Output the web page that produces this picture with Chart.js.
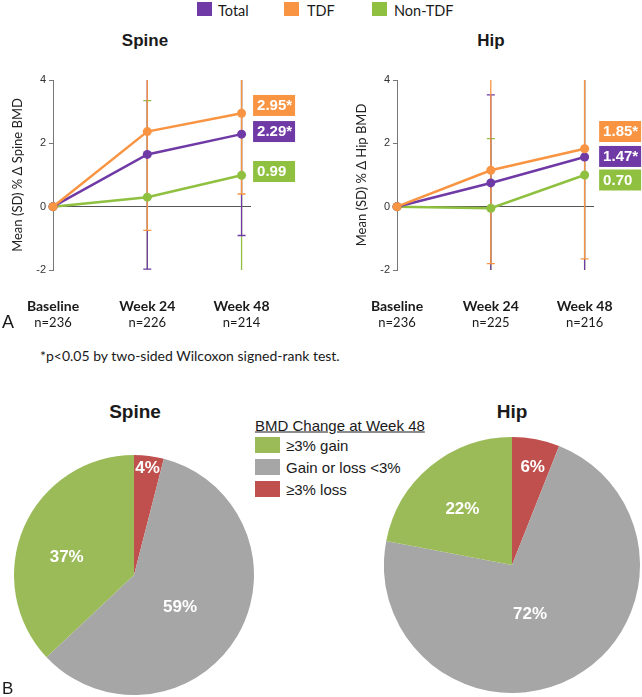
<!DOCTYPE html>
<html>
<head>
<meta charset="utf-8">
<script src="https://cdn.jsdelivr.net/npm/chart.js@4.4.1/dist/chart.umd.min.js"></script>
<style>
  html, body { margin:0; padding:0; background:#fff; }
  body { width:642px; height:697px; position:relative; overflow:hidden; font-family: Lato, "Open Sans", sans-serif; color:#1a1a1a; }
  .abs { position:absolute; white-space:nowrap; }
  .vc { transform: translateY(-50%); }
  canvas { position:absolute; }
  .sq { position:absolute; }
</style>
</head>
<body>
<!-- top legend -->
<div class="sq" style="left:197px;top:2px;width:15px;height:14px;background:#6f3aa6"></div>
<div class="abs vc" style="left:218px;top:10px;font-size:14.5px;">Total</div>
<div class="sq" style="left:284px;top:2px;width:15px;height:14px;background:#f89442"></div>
<div class="abs vc" style="left:307px;top:10px;font-size:14.5px;">TDF</div>
<div class="sq" style="left:372px;top:2px;width:15px;height:14px;background:#8fc040"></div>
<div class="abs vc" style="left:394px;top:10px;font-size:14.5px;">Non-TDF</div>

<div class="abs vc" style="left:145px;top:41px;transform:translate(-50%,-50%);font:bold 17px 'Liberation Sans',Arial,sans-serif;">Spine</div>
<div class="abs vc" style="left:491px;top:41px;transform:translate(-50%,-50%);font:bold 17px 'Liberation Sans',Arial,sans-serif;">Hip</div>

<canvas id="spineLine" width="321" height="340" style="left:0;top:0;width:321px;height:340px"></canvas>
<canvas id="hipLine" width="321" height="340" style="left:321px;top:0;width:321px;height:340px"></canvas>

<div class="abs vc" style="left:2px;top:322px;font:18px 'Liberation Sans',Arial,sans-serif;">A</div>
<div class="abs vc" style="left:40px;top:355px;font-size:14px;">*p&lt;0.05 by two-sided Wilcoxon signed-rank test.</div>

<div class="abs" style="left:135px;top:412px;transform:translate(-50%,-50%);font:bold 19px 'Liberation Sans',Arial,sans-serif;">Spine</div>
<div class="abs" style="left:512px;top:412px;transform:translate(-50%,-50%);font:bold 19px 'Liberation Sans',Arial,sans-serif;">Hip</div>

<div id="pieLegend"></div>

<canvas id="spinePie" width="240" height="240" style="left:14px;top:455px;width:240px;height:240px"></canvas>
<canvas id="hipPie" width="256" height="256" style="left:384px;top:437px;width:256px;height:256px"></canvas>

<div class="abs vc" style="left:2px;top:689px;font:17px 'Liberation Sans',Arial,sans-serif;">B</div>

<script>
// ---------------- data ----------------
const categories = ['Baseline', 'Week 24', 'Week 48'];
const spineN = ['n=236', 'n=226', 'n=214'];
const hipN = ['n=236', 'n=225', 'n=216'];
const seriesNames = ['Total', 'TDF', 'Non-TDF'];

const spineTotal = [0, 1.65, 2.29];
const spineTDF = [0, 2.37, 2.95];
const spineNonTDF = [0, 0.30, 0.99];
const spineTotalSD = [0, 3.62, 3.20];
const spineTDFSD = [0, 3.12, 2.55];
const spineNonTDFSD = [0, 3.05, 3.10];
const spineValueLabels = ['2.29*', '2.95*', '0.99'];

const hipTotal = [0, 0.75, 1.57];
const hipTDF = [0, 1.15, 1.83];
const hipNonTDF = [0, -0.05, 1.00];
const hipTotalSD = [0, 2.78, 3.70];
const hipTDFSD = [0, 2.95, 3.48];
const hipNonTDFSD = [0, 2.20, 3.10];
const hipValueLabels = ['1.47*', '1.85*', '0.70'];

const yMin = -2, yMax = 4, yStep = 2;

const pieCategories = ['\u22653% gain', 'Gain or loss <3%', '\u22653% loss'];
const spinePie = [37, 59, 4];
const hipPie = [22, 72, 6];
const pieTitle = 'BMD Change at Week 48';

// ---------------- styles ----------------
const COL = { Total: '#6f3aa6', TDF: '#f89442', 'Non-TDF': '#8fc040' };
const PIECOL = ['#9bbb59', '#a6a6a6', '#c0504d'];
const UIFONT = 'Lato, "Open Sans", sans-serif';

// pie legend (HTML)
(function () {
  const el = document.getElementById('pieLegend');
  let h = '<div class="abs vc" style="left:255px;top:425px;font:15px \'Liberation Sans\',Arial,sans-serif;text-decoration:underline;">' + pieTitle + '</div>';
  const sqTop = [437, 459, 481];
  pieCategories.forEach((c, i) => {
    h += '<div class="sq" style="left:255px;top:' + sqTop[i] + 'px;width:25px;height:16px;background:' + PIECOL[i] + '"></div>';
    h += '<div class="abs vc" style="left:286px;top:' + (sqTop[i] + 8) + 'px;font:15px \'Liberation Sans\',Arial,sans-serif;">' + c + '</div>';
  });
  el.innerHTML = h;
})();

// ---------------- plugins ----------------
const errorBarPlugin = {
  id: 'errorBars',
  beforeDatasetsDraw(chart, args, opts) {
    const { ctx, chartArea, scales } = chart;
    ctx.save();
    ctx.beginPath();
    ctx.rect(chartArea.left - 10, chartArea.top, chartArea.right - chartArea.left + 20, chartArea.bottom - chartArea.top);
    ctx.clip();
    opts.drawOrder.forEach(di => {
      const ds = chart.data.datasets[di];
      ctx.strokeStyle = ds.borderColor;
      ctx.lineWidth = 1.3;
      ds.data.forEach((p, i) => {
        const sd = ds.sd[i];
        if (!sd) return;
        const x = scales.x.getPixelForValue(p.x);
        const yHi = scales.y.getPixelForValue(p.y + sd);
        const yLo = scales.y.getPixelForValue(p.y - sd);
        ctx.beginPath();
        ctx.moveTo(x, yHi); ctx.lineTo(x, yLo);
        ctx.moveTo(x - 4, yHi); ctx.lineTo(x + 4, yHi);
        ctx.moveTo(x - 4, yLo); ctx.lineTo(x + 4, yLo);
        ctx.stroke();
      });
    });
    ctx.restore();
  },
  afterDraw(chart, args, opts) {
    const { ctx, scales } = chart;
    ctx.save();
    // x category labels
    ctx.textAlign = 'center';
    ctx.textBaseline = 'middle';
    ctx.fillStyle = '#1a1a1a';
    opts.categories.forEach((c, i) => {
      const x = scales.x.getPixelForValue(i);
      ctx.font = 'bold 14px ' + UIFONT;
      ctx.fillText(c, x, 306);
      ctx.font = '13px ' + UIFONT;
      ctx.fillText(opts.nLabels[i], x, 323);
    });
    // value boxes at last point
    chart.data.datasets.forEach((ds, di) => {
      const last = ds.data[ds.data.length - 1];
      const x = scales.x.getPixelForValue(last.x) + opts.boxDx;
      const y = scales.y.getPixelForValue(last.y) + opts.boxDy[di];
      ctx.fillStyle = ds.borderColor;
      ctx.fillRect(x, y - 10.5, 42, 21);
      ctx.fillStyle = '#fff';
      ctx.font = 'bold 15px "Liberation Sans", Arial, sans-serif';
      ctx.textAlign = 'left';
      ctx.fillText(ds.valueLabel, x + 4, y + 0.5);
    });
    ctx.restore();
  }
};

function lineChart(id, total, tdf, non, totalSD, tdfSD, nonSD, labels, nLabels, yTitle, padLeft, padRight, boxDx, boxDy) {
  const mk = (arr) => arr.map((v, i) => ({ x: i, y: v }));
  const series = [
    { name: seriesNames[0], data: total, sd: totalSD, lab: labels[0], order: 1 },
    { name: seriesNames[1], data: tdf, sd: tdfSD, lab: labels[1], order: 0 },
    { name: seriesNames[2], data: non, sd: nonSD, lab: labels[2], order: 2 },
  ];
  new Chart(document.getElementById(id), {
    type: 'line',
    data: {
      datasets: series.map(s => ({
        label: s.name,
        data: mk(s.data),
        sd: s.sd,
        valueLabel: s.lab,
        borderColor: COL[s.name],
        backgroundColor: COL[s.name],
        borderWidth: 2.5,
        pointRadius: 4.5,
        pointBorderWidth: 0,
        pointBackgroundColor: COL[s.name],
        order: s.order,
        clip: false,
        tension: 0
      }))
    },
    options: {
      responsive: false,
      animation: false,
      events: [],
      layout: { padding: { left: padLeft, right: padRight, top: 80, bottom: 70 } },
      plugins: {
        legend: { display: false },
        tooltip: { enabled: false },
        errorBars: { drawOrder: [2, 0, 1], categories: categories, nLabels: nLabels, boxDx: boxDx, boxDy: boxDy }
      },
      scales: {
        x: { type: 'linear', display: false, min: 0, max: 2.1 },
        y: {
          min: yMin, max: yMax,
          afterFit(s) { s.width = 53; },
          ticks: { stepSize: yStep, padding: 3, color: '#333', font: { size: 11, family: '"Liberation Sans", Arial, sans-serif' } },
          grid: {
            color: c => (c.tick && c.tick.value === 0) ? '#555' : 'rgba(0,0,0,0)',
            tickColor: '#777',
            tickLength: 4,
            lineWidth: 1
          },
          border: { display: true, color: '#777', width: 1 },
          title: { display: true, text: yTitle, color: '#222', padding: { top: 10, bottom: 0 }, font: { size: 13, family: UIFONT } }
        }
      }
    },
    plugins: [errorBarPlugin]
  });
}

lineChart('spineLine', spineTotal, spineTDF, spineNonTDF, spineTotalSD, spineTDFSD, spineNonTDFSD,
  spineValueLabels, spineN, 'Mean (SD) % \u0394 Spine BMD', 0, 70, 11.5, [-2.6, -7.8, -3.8]);
lineChart('hipLine', hipTotal, hipTDF, hipNonTDF, hipTotalSD, hipTDFSD, hipNonTDFSD,
  hipValueLabels, hipN, 'Mean (SD) % \u0394 Hip BMD', 23, 48, 14.5, [-0.5, -17.2, 5]);

// ---------------- pies ----------------
const pieLabelPlugin = {
  id: 'pieLabels',
  afterDatasetsDraw(chart, args, opts) {
    const { ctx } = chart;
    const meta = chart.getDatasetMeta(0);
    ctx.save();
    ctx.fillStyle = '#fff';
    ctx.font = 'bold 17px "Liberation Sans", Arial, sans-serif';
    ctx.textAlign = 'center';
    ctx.textBaseline = 'middle';
    meta.data.forEach((arc, i) => {
      const a = (arc.startAngle + arc.endAngle) / 2 + (opts.angleShift[i] || 0);
      const r = arc.outerRadius * opts.radFrac[i];
      ctx.fillText(chart.data.datasets[0].data[i] + '%', arc.x + Math.cos(a) * r, arc.y + Math.sin(a) * r);
    });
    ctx.restore();
  }
};

function pieChart(id, values, radFrac, angleShift) {
  // drawn clockwise from 12 o'clock: loss, middle, gain
  const order = [2, 1, 0];
  new Chart(document.getElementById(id), {
    type: 'pie',
    data: {
      labels: order.map(i => pieCategories[i]),
      datasets: [{ data: order.map(i => values[i]), backgroundColor: order.map(i => PIECOL[i]), borderWidth: 0 }]
    },
    options: {
      responsive: false,
      animation: false,
      events: [],
      layout: { padding: 0 },
      plugins: {
        legend: { display: false }, tooltip: { enabled: false },
        pieLabels: { radFrac: radFrac, angleShift: angleShift }
      }
    },
    plugins: [pieLabelPlugin]
  });
}

pieChart('spinePie', spinePie, [0.9, 0.47, 0.58], [0, 0.08, -0.15]);
pieChart('hipPie', hipPie, [0.78, 0.41, 0.58], [0.02, 0.15, -0.04]);
</script>
</body>
</html>
